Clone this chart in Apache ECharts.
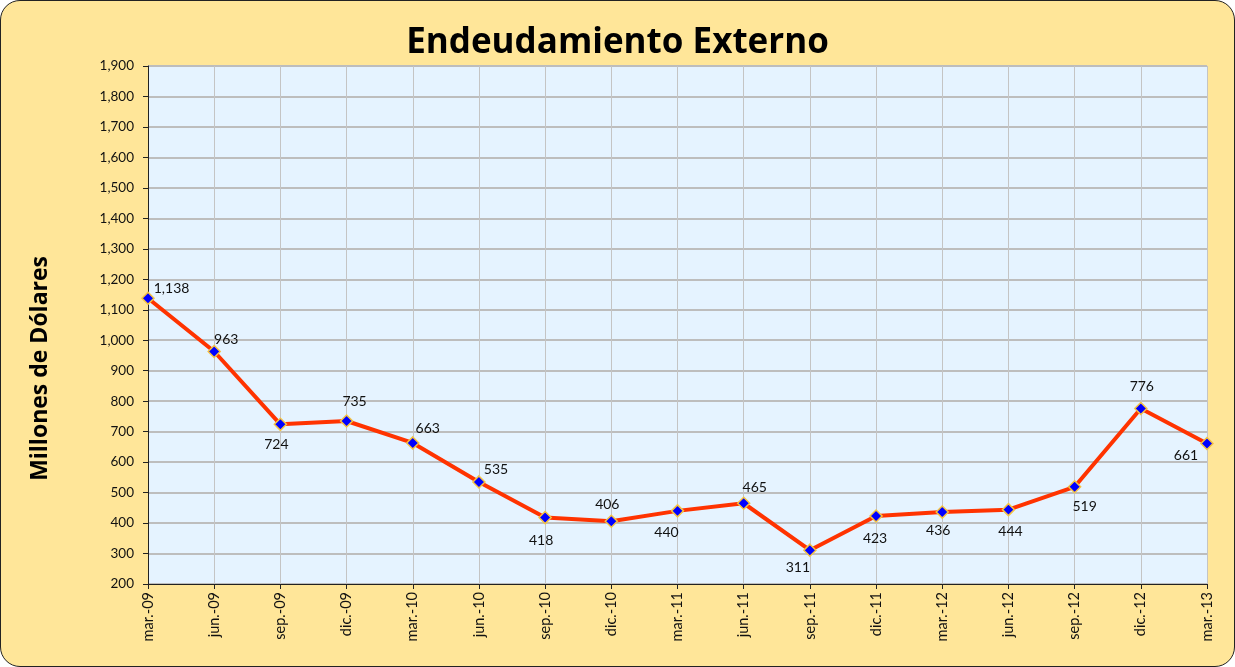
<!DOCTYPE html>
<html>
<head>
<meta charset="utf-8">
<script src="https://cdn.jsdelivr.net/npm/echarts@6/dist/echarts.min.js"></script>
<style>
  html, body { margin: 0; padding: 0; background: #ffffff; }
  #wrap {
    position: absolute; left: 0; top: 0; width: 1233px; height: 665px;
    background: #FFE699; border: 1px solid #222; border-radius: 20px; overflow: hidden;
  }
  #chart { width: 1233px; height: 665px; }
</style>
</head>
<body>
<div id="wrap"><div id="chart"></div></div>
<script>
const periodos = ['mar.-09', 'jun.-09', 'sep.-09', 'dic.-09', 'mar.-10', 'jun.-10', 'sep.-10', 'dic.-10',
    'mar.-11', 'jun.-11', 'sep.-11', 'dic.-11', 'mar.-12', 'jun.-12', 'sep.-12', 'dic.-12', 'mar.-13'];
const deuda = [1138, 963, 724, 735, 663, 535, 418, 406, 440, 465, 311, 423, 436, 444, 519, 776, 661];

// donde va cada etiqueta (arriba / abajo) y su corrimiento
const posEtiqueta = ['right', 'top', 'bottom', 'top', 'top', 'top', 'bottom', 'top',
    'bottom', 'top', 'bottom', 'bottom', 'bottom', 'bottom', 'bottom', 'top', 'bottom'];
const desplEtiqueta = [[-7, -10], [12, 8], [-4, 0], [8, 0], [15, 5], [17, 7], [-4, 3], [-4, 3],
    [-11, 2], [11, 4], [-12, -2], [-1, 3], [-4, -1], [2, 2], [10, 0], [1, -2], [-21, -8]];

const chart = echarts.init(document.getElementById('chart'));
const fuente = 'Lato, "Open Sans", sans-serif';

const option = {
    animation: false,
    textStyle: { fontFamily: fuente },
    title: {
        text: 'Endeudamiento Externo',
        left: 'center',
        top: 20,
        textStyle: { fontSize: 35, fontWeight: 'bold', color: '#000', fontFamily: '"Open Sans", sans-serif' }
    },
    graphic: [{
        type: 'text',
        left: 28,
        top: 255,
        rotation: Math.PI / 2,
        style: {
            text: 'Millones de Dólares',
            font: 'bold 23px "Open Sans", sans-serif',
            fill: '#000'
        }
    }],
    grid: {
        left: 147,
        right: 27,
        top: 65,
        bottom: 82,
        show: true,
        backgroundColor: '#E5F3FF',
        borderWidth: 0
    },
    xAxis: {
        type: 'category',
        data: periodos,
        boundaryGap: false,
        axisLine: { lineStyle: { color: '#222', width: 1 } },
        axisTick: { show: true, alignWithLabel: true, length: 5, lineStyle: { color: '#222' } },
        axisLabel: { rotate: 90, fontSize: 14.5, color: '#111', margin: 8, interval: 0 },
        splitLine: { show: true, lineStyle: { color: '#C4C4C4', width: 1 } }
    },
    yAxis: {
        type: 'value',
        min: 200,
        max: 1900,
        interval: 100,
        axisLine: { show: true, lineStyle: { color: '#222', width: 1 } },
        axisTick: { show: true, length: 5, lineStyle: { color: '#222' } },
        axisLabel: {
            fontSize: 13.5, color: '#111', margin: 14,
            formatter: v => v.toLocaleString('en-US')
        },
        splitLine: { show: true, lineStyle: { color: '#BDBDBD', width: 2 } }
    },
    series: [{
        type: 'line',
        data: deuda.map((v, i) => ({
            value: v,
            label: { position: posEtiqueta[i], offset: desplEtiqueta[i] }
        })),
        symbol: 'diamond',
        symbolSize: 12,
        itemStyle: { color: '#0000FF', borderColor: '#F5C342', borderWidth: 1.5 },
        lineStyle: { color: '#FF3300', width: 4 },
        label: {
            show: true,
            fontSize: 14,
            color: '#111',
            distance: 6,
            formatter: p => p.value.toLocaleString('en-US')
        },
        z: 5
    }]
};

chart.setOption(option);
</script>
</body>
</html>
